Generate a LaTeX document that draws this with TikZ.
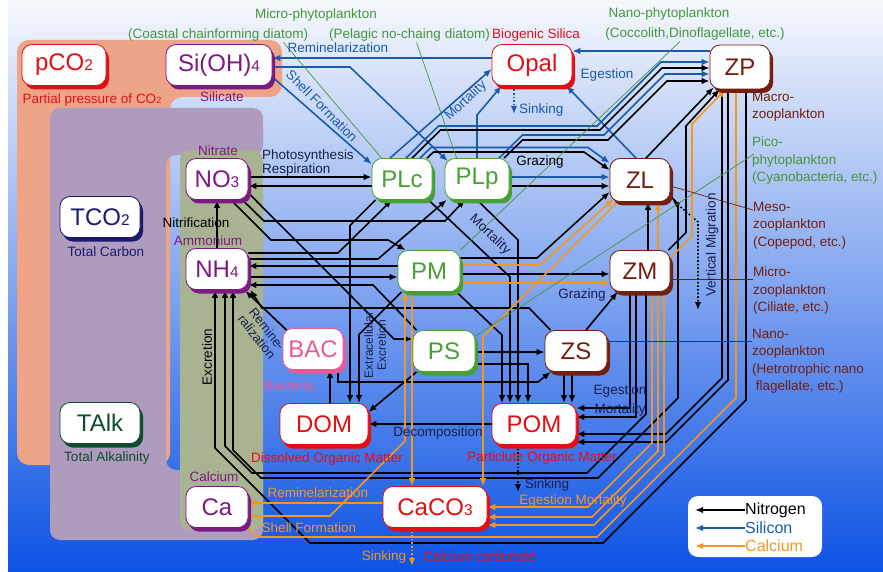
\documentclass[tikz,border=0pt]{standalone}
\usepackage{fontspec}
\setmainfont{Liberation Sans}
\usetikzlibrary{arrows.meta,calc,shadows}

\definecolor{cRed}{RGB}{225,15,20}
\definecolor{cPur}{RGB}{125,25,130}
\definecolor{cGrn}{RGB}{70,160,50}
\definecolor{cBrn}{RGB}{115,30,15}
\definecolor{cNavy}{RGB}{25,25,110}
\definecolor{cPink}{RGB}{235,90,150}
\definecolor{cDkG}{RGB}{15,75,45}
\definecolor{txtdk}{RGB}{25,30,75}
\definecolor{silblue}{RGB}{25,90,170}
\definecolor{caorg}{RGB}{245,150,30}
\definecolor{lblgrn}{RGB}{70,150,60}
\definecolor{salmon}{RGB}{238,165,135}
\definecolor{lilac}{RGB}{175,155,190}
\definecolor{olive}{RGB}{168,180,145}
\definecolor{bgtop}{RGB}{246,248,252}
\definecolor{bgmid}{RGB}{135,168,234}
\definecolor{bgbot}{RGB}{12,82,228}

\newcommand\smn[1]{{\fontsize{15.5}{15.5}\selectfont #1}}
\newcommand\sml[1]{{\fontsize{9}{9}\selectfont #1}}
\newcommand\lblfont{\fontsize{13.5}{17.5}\selectfont}

\pgfdeclarelayer{bg}
\pgfdeclarelayer{lines}
\pgfsetlayers{bg,lines,main}

\begin{document}
\begin{tikzpicture}[x=1pt, y=-1pt, >={Latex[length=8pt,width=6.5pt]},
  box/.style={draw=#1, fill=white, text=#1, line width=0.8pt, rounded corners=10pt, inner sep=0pt,
    minimum height=41pt, font=\fontsize{24}{26}\selectfont,
    drop shadow={fill=#1, opacity=1, shadow xshift=3pt, shadow yshift=-4pt}},
  lbl/.style={font=\lblfont, inner sep=0pt, align=left},
  nit/.style={draw=black, line width=1.6pt, ->},
  sil/.style={nit, draw=silblue},
  cal/.style={nit, draw=caorg},
  lead/.style={draw=#1, line width=0.7pt}
]
\useasboundingbox (0,0) rectangle (883,572);

% compartments
\node[box=cRed, minimum width=84pt] (pCO2) at (64,65) {pCO\smn{2}};
\node[box=cPur, minimum width=106pt] (SiOH) at (219,65) {Si(OH)\smn{4}};
\node[box=cRed, minimum width=80pt] (Opal) at (532,65) {Opal};
\node[box=cBrn, minimum width=60pt, minimum height=44pt] (ZP) at (740,67) {ZP};
\node[box=cPur, minimum width=62pt] (NO3) at (217,179) {NO\smn{3}};
\node[box=cGrn, minimum width=60pt] (PLc) at (402,179) {PLc};
\node[box=cGrn, minimum width=64pt] (PLp) at (477,179) {PLp};
\node[box=cBrn, minimum width=60pt, minimum height=43pt] (ZL) at (640,180) {ZL};
\node[box=cNavy, minimum width=80pt] (TCO2) at (100,217) {TCO\smn{2}};
\node[box=cPur, minimum width=62pt] (NH4) at (217,269) {NH\smn{4}};
\node[box=cGrn, minimum width=62pt] (PM) at (429,271) {PM};
\node[box=cBrn, minimum width=60pt] (ZM) at (640,271) {ZM};
\node[box=cPink, minimum width=60pt] (BAC) at (313,349) {BAC};
\node[box=cGrn, minimum width=62pt] (PS) at (444,351) {PS};
\node[box=cBrn, minimum width=62pt] (ZS) at (576,351) {ZS};
\node[box=cDkG, minimum width=80pt] (TAlk) at (100,423) {TAlk};
\node[box=cRed, minimum width=88pt] (DOM) at (324,424) {DOM};
\node[box=cRed, minimum width=84pt] (POM) at (534,424) {POM};
\node[box=cPur, minimum width=62pt] (Ca) at (217,507) {Ca};
\node[box=cRed, minimum width=104pt] (CaCO3) at (435,507) {CaCO\smn{3}};

% labels
\node[lbl, text=cRed] (pplbl) at (92,100) {Partial pressure of CO\sml{2}};
\node[lbl, text=cPur] (silbl) at (222,97) {Silicate};
\node[lbl, text=lblgrn] (microlbl) at (316,15) {Micro-phytoplankton};
\node[lbl, text=lblgrn, anchor=west] (coastlbl) at (128,35) {(Coastal chainforming diatom)};
\node[lbl, text=lblgrn, anchor=east] (pelaglbl) at (490,35) {(Pelagic no-chaing diatom)};
\node[lbl, text=cRed, anchor=west] (bsilbl) at (492,35) {Biogenic Silica};
\node[lbl, text=silblue] (reminsi) at (338,48) {Reminelarization};
\node[lbl, text=silblue, rotate=-45] (shellsi) at (322,106) {Shell Formation};
\node[lbl, text=silblue, rotate=43] (mortsi) at (466,101) {Mortality};
\node[lbl, text=silblue] (egestsi) at (607,75) {Egestion};
\node[lbl, text=silblue, anchor=west] (sinksi) at (519,110) {Sinking};
\node[lbl, text=lblgrn] (nanolbl) at (669,14) {Nano-phytoplankton};
\node[lbl, text=lblgrn] (coccolbl) at (695,34) {(Coccolith,Dinoflagellate, etc.)};
\node[lbl, text=cBrn, anchor=north west] (macrolbl) at (752,92) {Macro-\\zooplankton};
\node[lbl, text=lblgrn, anchor=north west] (picolbl) at (752,137) {Pico-\\phytoplankton\\(Cyanobacteria, etc.)};
\node[lbl, text=cBrn, anchor=north west] (mesolbl) at (753,202) {Meso-\\zooplankton\\(Copepod, etc.)};
\node[lbl, text=cBrn, anchor=north west] (microzlbl) at (753,267) {Micro-\\zooplankton\\(Ciliate, etc.)};
\node[lbl, text=cBrn, anchor=north west] (nanozlbl) at (752,329) {Nano-\\zooplankton\\(Hetrotrophic nano\\\ flagellate, etc.)};
\node[lbl, text=cPur] (nitlbl) at (218,151) {Nitrate};
\node[lbl, text=txtdk, anchor=west] (photolbl) at (262,156) {Photosynthesis};
\node[lbl, text=txtdk, anchor=west] (resplbl) at (262,170) {Respiration};
\node[lbl, text=black] (nitrilbl) at (196,223) {Nitrification};
\node[lbl, text=cPur] (ammlbl) at (208,241) {Ammonium};
\node[lbl, text=cNavy] (tclbl) at (106,252) {Total Carbon};
\node[lbl, text=txtdk, rotate=-52, align=center, font=\fontsize{13}{13}\selectfont] (reminlbl) at (262,333) {Remine-\\ralization};
\node[lbl, text=black, rotate=90] (excrlbl) at (207,357) {Excretion};
\node[lbl, text=cPink] (baclbl) at (289,386) {Bacteria};
\node[lbl, text=txtdk, rotate=90, align=center, font=\fontsize{12}{13}\selectfont] (extlbl) at (375,345) {Extracellular\\Excretion};
\node[lbl, text=black] (graz1) at (540,162) {Grazing};
\node[lbl, text=txtdk] (graz2) at (582,295) {Grazing};
\node[lbl, text=txtdk, rotate=-44] (mortpl) at (490,235) {Mortality};
\node[lbl, text=txtdk, rotate=90] (vmlbl) at (712,245) {Vertical Migration};
\node[lbl, text=txtdk] (decolbl) at (438,433) {Decomposition};
\node[lbl, text=cRed] (domlbl) at (327,459) {Dissolved Organic Matter};
\node[lbl, text=cRed] (pomlbl) at (542,458) {Particlute Organic Matter};
\node[lbl, text=txtdk] (egpom) at (620,391) {Egestion};
\node[lbl, text=txtdk] (mopom) at (620,410) {Mortality};
\node[lbl, text=txtdk] (sinkpoml) at (547,485) {Sinking};
\node[lbl, text=caorg] (egmolbl) at (573,501) {Egestion Mortality};
\node[lbl, text=cDkG] (talbl) at (107,458) {Total Alkalinity};
\node[lbl, text=cPur] (calbl) at (214,477) {Calcium};
\node[lbl, text=caorg] (remca) at (318,493) {Reminelarization};
\node[lbl, text=caorg] (shellca) at (309,528) {Shell Formation};
\node[lbl, text=caorg] (sinkcal) at (384,557) {Sinking};
\node[lbl, text=cRed] (cclbl) at (480,557) {Calcium carbonate};

% legend
\node[fill=white, rounded corners=10pt, minimum width=134pt, minimum height=61pt, inner sep=0pt] (legend) at (755,526.5) {};
\node[anchor=west, inner sep=0pt, font=\fontsize{16}{16}\selectfont] (lgN) at (745,510) {Nitrogen};
\node[anchor=west, inner sep=0pt, font=\fontsize{16}{16}\selectfont, text=silblue] (lgS) at (745,528) {Silicon};
\node[anchor=west, inner sep=0pt, font=\fontsize{16}{16}\selectfont, text=caorg] (lgC) at (745,546) {Calcium};
\draw[nit] (lgN.west) -- ++(-50,0);
\draw[sil] (lgS.west) -- ++(-50,0);
\draw[cal] (lgC.west) -- ++(-50,0);

\begin{pgfonlayer}{bg}
  \shade[top color=bgtop, middle color=bgmid, bottom color=bgbot] (8,0) rectangle (883,572);
  \fill[salmon, rounded corners=12pt] (17,40) -- (282,40) -- (282,97) -- (170,97) -- (170,465) -- (17,465) -- cycle;
  \fill[lilac, rounded corners=10pt] (50,108) -- (263,108) -- (263,155) -- (166,155) -- (166,470) -- (263,470) -- (263,540) -- (50,540) -- cycle;
  \fill[olive, rounded corners=10pt] (180,150) rectangle (263,530);
\end{pgfonlayer}

\begin{pgfonlayer}{lines}
  % silicon
  \draw[sil] (Opal.west |- 0,58) -- (SiOH.east |- 0,58);
  \draw[sil] (SiOH.east |- 0,67) -- (350,67) -- ($(PLp.north west)+(3,3)$);
  \draw[sil] (SiOH.east |- 0,77) -- ($(PLc.north west)+(0,6)$);
  \draw[sil] (ZP.west |- 0,51) -- (Opal.east |- 0,51);
  \draw[sil] ($(ZL.north)+(-4,0)$) -- ($(Opal.south east)+(-6,0)$);
  \draw[sil] ($(PLc.north)+(-12,0)$) -- (Opal.west |- 0,69);
  \draw[sil] (PLp.north) -- (477,115) -- ($(Opal.south west)+(10,0)$);
  \coordinate (sinkopal) at (514,114);
  \draw[sil, dotted] (Opal.south -| sinkopal) -- (sinkopal);
  \draw[sil] ($(PLc.north)+(4,0)$) -- (438.5,126) -- (597,126) -- (661,62) -- (ZP.west |- 0,62);
  \draw[sil] ($(PLp.north)+(22,0)$) -- (522.5,135) -- (604,135) -- (665,74) -- (ZP.west |- 0,74);
  \draw[sil] ($(PLc.north)+(18,0)$) -- (431,147.5) -- (588,147.5) -- ($(ZL.west)+(0,-17)$);
  \draw[sil] (PLp.east |- 0,177) -- (ZL.west |- 0,177);
  % nitrogen
  \draw[nit] ($(PLc.north)+(10,0)$) -- (440.5,130) -- (600,130) -- (662,68) -- (ZP.west |- 0,68);
  \draw[nit] ($(PLp.north)+(27,0)$) -- (522.5,140) -- (608,140) -- (667,81) -- (ZP.west |- 0,81);
  \draw[nit] ($(PLc.north)+(25,0)$) -- (433.5,152) -- (584,152) -- ($(ZL.west)+(0,-10)$);
  \draw[nit] (PLp.east |- 0,186) -- (ZL.west |- 0,186);
  \draw[nit] (NO3.east |- 0,177) -- (PLc.west |- 0,177);
  \draw[nit] (PLc.west |- 0,186) -- (NO3.east |- 0,186);
  \draw[nit] (NH4.north) -- (NO3.south);
  \draw[nit] ($(NO3.south east)+(-6,0)$) -- (264,221) -- (445,221) -- ($(PLp.south)+(-12,0)$);
  \draw[nit] ($(NO3.south)+(14,0)$) -- (271,240) -- (388,240) -- ($(PM.north west)+(8,0)$);
  \draw[nit] ($(NO3.east)+(0,14)$) -- (394,339) -- (PS.west |- 0,339);
  \draw[nit] (NH4.east |- 0,253) -- (338,253) -- ($(PLc.south)+(-10,0)$);
  \draw[nit] (NH4.east |- 0,259) -- (378,259) -- ($(PLp.south west)+(2,0)$);
  \draw[nit] (PM.west |- 0,266) -- (NH4.east |- 0,266);
  \draw[nit] (NH4.east |- 0,277) -- (PM.west |- 0,277);
  \draw[nit] ($(PS.north west)+(4,0)$) -- (373,285) -- (NH4.east |- 0,285);
  \draw[nit] ($(BAC.north west)+(4,2)$) -- ($(NH4.south east)+(-3,1)$);
  \draw[nit] ($(ZS.north west)+(6,0)$) -- (529,308) -- (262,308) -- ($(NH4.south east)+(2,0)$);
  \draw[nit] ($(PLc.south west)+(4,0)$) -- (350,225.5) -- (DOM.north -| 350,0);
  \draw[nit] ($(PM.south west)+(4,0)$) -- (359,334.5) -- (DOM.north -| 359,0);
  \draw[nit] ($(PS.south west)+(4,0)$) -- ($(DOM.east)+(0,-12)$);
  \draw[nit] (DOM.north -| 330,0) -- (BAC.south -| 330,0);
  \draw[nit] (POM.west |- 0,424) -- (DOM.east |- 0,424);
  \draw[nit] ($(PM.south east)+(-4,0)$) -- (502,335) -- (POM.north -| 502,0);
  \draw[nit] ($(PLc.south east)+(-4,0)$) -- (510,277) -- (POM.north -| 510,0);
  \draw[nit] (PLp.south) -- (518,240) -- (POM.north -| 518,0);
  \draw[nit] (PS.east |- 0,364) -- (528,364) -- (POM.north -| 528,0);
  \draw[nit] (PS.east |- 0,352) -- (ZS.west |- 0,352);
  \draw[nit] (BAC.south -| 338,0) -- (338,382) -- (538,382) -- ($(ZS.south west)+(6,0)$);
  \draw[nit] ($(ZS.north)+(10,0)$) -- ($(ZM.south west)+(8,0)$);
  \draw[nit] ($(ZM.north)+(8,0)$) -- ($(ZL.south)+(8,0)$);
  \draw[nit] (PM.east |- 0,258) -- (537,258) -- ($(ZL.west)+(0,12)$);
  \draw[nit] (PM.east |- 0,274) -- (ZM.west |- 0,274);
  \draw[nit] ($(ZL.north)+(6,0)$) -- ($(ZP.south west)+(4,-2)$);
  \draw[nit] ($(ZM.north east)+(-2,0)$) -- (686,232.5) -- (686,126) -- ($(ZP.south west)+(10,0)$);
  \draw[nit] ($(ZS.south)+(-12,0)$) -- (POM.north -| 564,0);
  \draw[nit] ($(ZS.south)+(-4,0)$) -- (POM.north -| 572,0);
  \draw[nit] ($(ZM.south)+(-10,0)$) -- (630,408) -- (POM.east |- 0,408);
  \draw[nit] ($(ZM.south)+(-4,0)$) -- (636,417) -- (POM.east |- 0,417);
  \draw[nit] ($(ZP.south)+(-18,0)$) -- (722,378) -- (666,434) -- (POM.east |- 0,434);
  \draw[nit] ($(ZP.south)+(-12,0)$) -- (728,380) -- (666,442) -- (POM.east |- 0,442);
  \draw[nit] ($(ZP.south)+(6,0)$) -- (746,400) -- (603,543) -- (310,543) -- (215,448) -- (NH4.south -| 215,0);
  \draw[nit] ($(ZM.south)+(6,0)$) -- (646,414) -- (587,473) -- (252,473) -- (225,446) -- (NH4.south -| 225,0);
  \draw[nit] ($(ZL.east)+(0,16)$) -- (678,204) -- (678,398) -- (598,478) -- (261,478) -- (233,450) -- (NH4.south -| 233,0);
  \coordinate (sinkpom) at (518,492);
  \draw[nit, dotted] (POM.south -| sinkpom) -- (sinkpom);
  \coordinate (vmig) at (698,310);
  \draw[nit, dotted, <->] ($(ZL.south east)+(2,-2)$) -- (698,222) -- (vmig);
  % calcium
  \draw[cal] (CaCO3.west |- 0,503) -- (Ca.east |- 0,503);
  \draw[cal] (Ca.east |- 0,516) -- (330,516) -- (405,441) -- (PM.south -| 405,0);
  \draw[cal] (PM.south -| 412,0) -- (CaCO3.north -| 412,0);
  \draw[cal] ($(ZL.south west)+(8,0)$) -- (483,336.5) -- (CaCO3.north -| 483,0);
  \draw[cal] (PM.east |- 0,265) -- (540,265) -- ($(ZL.south west)+(4,-3)$);
  \draw[cal] (PM.east |- 0,283) -- (ZM.west |- 0,283);
  \draw[cal] ($(ZM.north)+(18,0)$) -- ($(ZL.south)+(18,0)$);
  \draw[cal] (ZM.east |- 0,258) -- (692,236) -- (692,124) -- ($(ZP.south west)+(16,0)$);
  \draw[cal] ($(ZM.south)+(12,0)$) -- (652,443) -- (588,507) -- (CaCO3.east |- 0,507);
  \draw[cal] ($(ZM.south)+(18,0)$) -- (658,451) -- (592,517) -- (CaCO3.east |- 0,517);
  \draw[cal] ($(ZM.south)+(24,0)$) -- (664,455) -- (594,525) -- (CaCO3.east |- 0,525);
  \draw[cal, -] ($(Ca.south east)+(-2,-1)$) -- (257,537) -- (597,537) -- (736,398) -- (ZP.south -| 736,0);
  \coordinate (sinkca) at (412,566);
  \draw[cal, dotted] (CaCO3.south -| sinkca) -- (sinkca);
  % leaders
  \draw[lead=lblgrn] ($(coastlbl.south east)+(-25,1)$) -- ($(PLc.north west)+(10,0)$);
  \draw[lead=lblgrn] ($(pelaglbl.south)+(7,1)$) -- ($(PLp.north west)+(12,0)$);
  \draw[lead=lblgrn] ($(coccolbl.south)+(-15,1)$) -- (PM.north east);
  \draw[lead=lblgrn] ($(picolbl.north west)+(2,17)$) -- ($(PS.north east)+(0,6)$);
  \draw[lead=cBrn] ($(ZL.east)+(0,6)$) -- ($(mesolbl.north west)+(0,8)$);
  \draw[lead=cBrn] (ZM.east |- 0,279) -- (microzlbl.north west |- 0,279);
  \draw[lead=cBrn] (ZS.east |- 0,341) -- (nanozlbl.north west |- 0,341);
\end{pgfonlayer}
\end{tikzpicture}
\end{document}
